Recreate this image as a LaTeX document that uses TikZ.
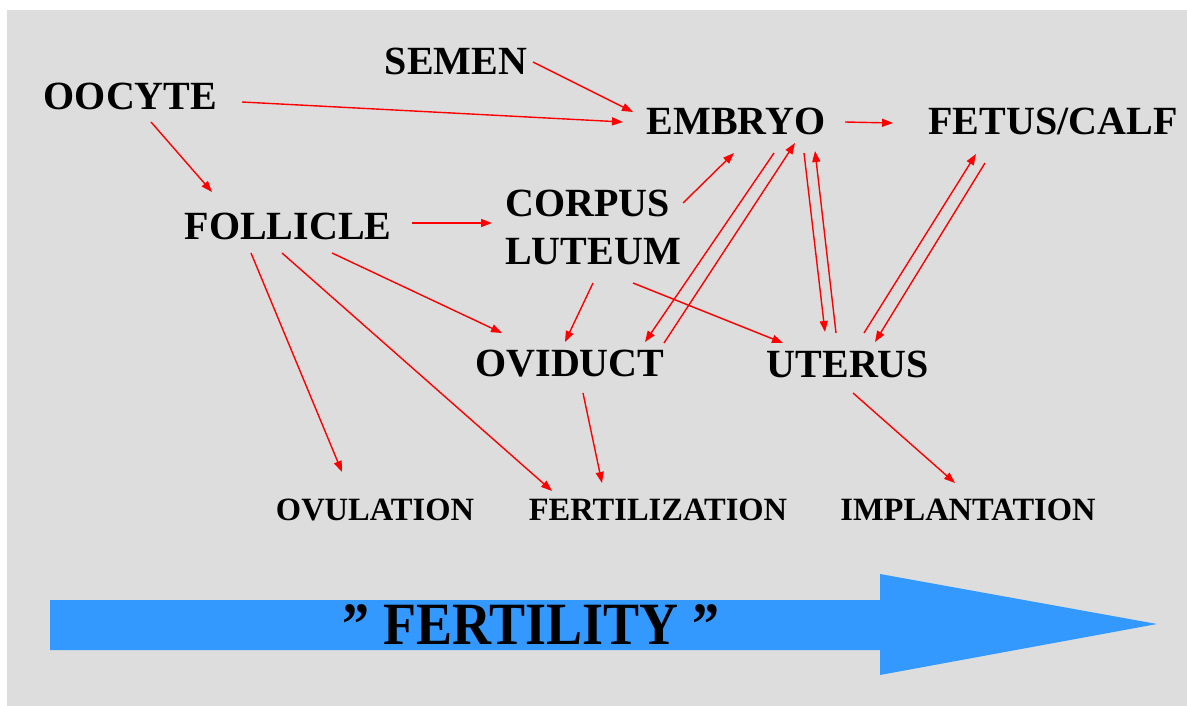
\documentclass[tikz,border=0pt]{standalone}
\usepackage{fontspec}
\setmainfont{Liberation Serif}
\usetikzlibrary{arrows.meta}
\definecolor{bgray}{RGB}{221,221,221}
\definecolor{fblue}{RGB}{51,153,255}
\definecolor{ared}{RGB}{255,0,0}
\begin{document}
\begin{tikzpicture}[x=1pt,y=-1pt,
  big/.style={font=\fontsize{40}{48}\selectfont\bfseries, inner sep=0pt},
  small/.style={font=\fontsize{32.5}{36}\selectfont\bfseries, inner sep=0pt},
  link/.style={draw=ared, line width=1.4pt, -{Triangle[length=11pt,width=8pt]}}]
\useasboundingbox (0,0) rectangle (1187,706);
\fill[white] (0,0) rectangle (1187,706);
\fill[bgray] (7,10) rectangle (1187,706);
\fill[fblue] (50,600) -- (880,600) -- (880,574) -- (1157,624) -- (880,675) -- (880,650) -- (50,650) -- cycle;

\node[big] (oocyte) at (130.5,96) {OOCYTE};
\node[big] (semen) at (456,61.5) {SEMEN};
\node[big] (embryo) at (736,121.5) {EMBRYO};
\node[big] (fetus) at (1053,121.5) {FETUS/CALF};
\node[big] (follicle) at (288,226) {FOLLICLE};
\node[big, align=left] (corpus) at (593,227.5) {CORPUS\\LUTEUM};
\node[big] (oviduct) at (570,364) {OVIDUCT};
\node[big] (uterus) at (848,364) {UTERUS};
\node[small] (ovulation) at (375,510) {OVULATION};
\node[small] (fertilization) at (658,510) {FERTILIZATION};
\node[small] (implantation) at (968,510) {IMPLANTATION};
\node[font=\fontsize{60}{64}\selectfont\bfseries, inner sep=0pt] (fertility) at (531,625) {\scalebox{0.9}[1]{” FERTILITY ”}};

\draw[link] ([shift={(77,0.5)}]semen.center) -- ([shift={(-103,-9.5)}]embryo.center);
\draw[link] ([shift={(111.5,6)}]oocyte.center) -- ([shift={(-113,0.5)}]embryo.center);
\draw[link] ([shift={(20.5,26)}]oocyte.center) -- ([shift={(-76,-34)}]follicle.center);
\draw[link] ([shift={(109,0.5)}]embryo.center) -- ([shift={(-160,1.5)}]fetus.center);
\draw[link] ([shift={(124,-3)}]follicle.center) -- ([shift={(-101,-4.5)}]corpus.center);
\draw[link] ([shift={(90,-24.5)}]corpus.center) -- ([shift={(-2,31.5)}]embryo.center);
\draw[link] ([shift={(38,31.5)}]embryo.center) -- ([shift={(75,-22)}]oviduct.center);
\draw[link] ([shift={(94,-21)}]oviduct.center) -- ([shift={(59,21.5)}]embryo.center);
\draw[link] ([shift={(68,31.5)}]embryo.center) -- ([shift={(-23,-32)}]uterus.center);
\draw[link] ([shift={(-12,-31)}]uterus.center) -- ([shift={(79,29.5)}]embryo.center);
\draw[link] ([shift={(16,-31)}]uterus.center) -- ([shift={(-77,32.5)}]fetus.center);
\draw[link] ([shift={(-68,41.5)}]fetus.center) -- ([shift={(27,-22)}]uterus.center);
\draw[link] ([shift={(44,27)}]follicle.center) -- ([shift={(-68,-31)}]oviduct.center);
\draw[link] ([shift={(0,55.5)}]corpus.center) -- ([shift={(-5,-22)}]oviduct.center);
\draw[link] ([shift={(40,55.5)}]corpus.center) -- ([shift={(-65,-21)}]uterus.center);
\draw[link] ([shift={(-37,27)}]follicle.center) -- ([shift={(-33,-38)}]ovulation.center);
\draw[link] ([shift={(-6,27)}]follicle.center) -- ([shift={(-106,-19)}]fertilization.center);
\draw[link] ([shift={(13,29)}]oviduct.center) -- ([shift={(-56,-27)}]fertilization.center);
\draw[link] ([shift={(5,29)}]uterus.center) -- ([shift={(-13,-27)}]implantation.center);
\end{tikzpicture}
\end{document}
